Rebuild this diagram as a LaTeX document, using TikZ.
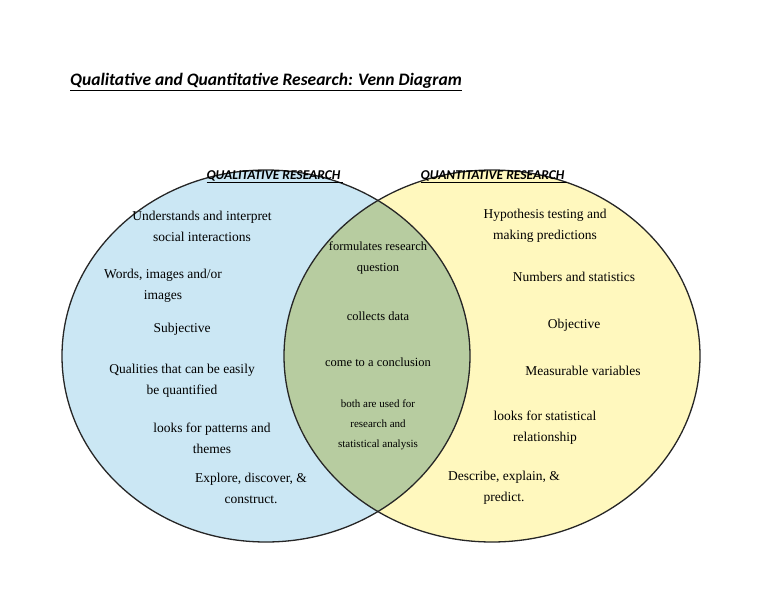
\documentclass[tikz,border=0pt]{standalone}
\usepackage{fontspec}
\setmainfont{Liberation Serif}
\newfontfamily\calib{Carlito}
\definecolor{lblue}{RGB}{203,231,244}
\definecolor{lyel}{RGB}{255,248,190}
\definecolor{lgreen}{RGB}{183,204,160}
\begin{document}
\begin{tikzpicture}[x=1pt,y=-1pt,
  txt/.style={align=center,font=\fontsize{13.5}{21}\selectfont,inner sep=0pt},
  hdr/.style={font=\calib\bfseries\itshape\fontsize{13.5}{14}\selectfont,inner sep=0pt}]
\useasboundingbox (0,0) rectangle (768,594);
\fill[white] (0,0) rectangle (768,594);
\fill[lblue] (266,356) ellipse [x radius=204,y radius=186];
\fill[lyel] (492,356) ellipse [x radius=208,y radius=186];
\begin{scope}
\clip (266,356) ellipse [x radius=204,y radius=186];
\fill[lgreen] (492,356) ellipse [x radius=208,y radius=186];
\end{scope}
\draw[line width=1.3pt,black!85] (266,356) ellipse [x radius=204,y radius=186];
\draw[line width=1.3pt,black!85] (492,356) ellipse [x radius=208,y radius=186];
\node[anchor=west,inner sep=0pt,font=\calib\bfseries\itshape\fontsize{17.5}{20}\selectfont] (title) at (70,82) {\underline{Qualitative and Quantitative Research: Venn Diagram}};
\node[hdr] (h1) at (275,177) {\underline{QUALITATIVE RESEARCH\ }};
\node[hdr] (h2) at (494,177) {\underline{QUANTITATIVE RESEARCH\ }};
\node[txt] (l1) at (202,226) {Understands and interpret\\social interactions};
\node[txt] (l2) at (163,286) {Words, images and/or\\images};
\node[txt] (l3) at (182,329) {Subjective};
\node[txt] (l4) at (182,381) {Qualities that can be easily\\be quantified};
\node[txt] (l5) at (212,438) {looks for patterns and\\themes};
\node[txt] (l6) at (251,488) {Explore, discover, \&\\construct.};
\node[txt,font=\fontsize{12.5}{21}\selectfont] (m1) at (378,258) {formulates research\\question};
\node[txt,font=\fontsize{12.5}{21}\selectfont] (m2) at (378,316) {collects data};
\node[txt,font=\fontsize{12.5}{21}\selectfont] (m3) at (378,362) {come to a conclusion};
\node[txt,font=\fontsize{11}{20}\selectfont] (m4) at (378,425) {both are used for\\research and\\statistical analysis};
\node[txt] (r1) at (545,226) {Hypothesis testing and\\making predictions};
\node[txt] (r2) at (574,277) {Numbers and statistics};
\node[txt] (r3) at (574,325) {Objective};
\node[txt] (r4) at (583,371) {Measurable variables};
\node[txt] (r5) at (545,428) {looks for statistical\\relationship};
\node[txt] (r6) at (504,488) {Describe, explain, \&\\predict.};
\end{tikzpicture}
\end{document}
